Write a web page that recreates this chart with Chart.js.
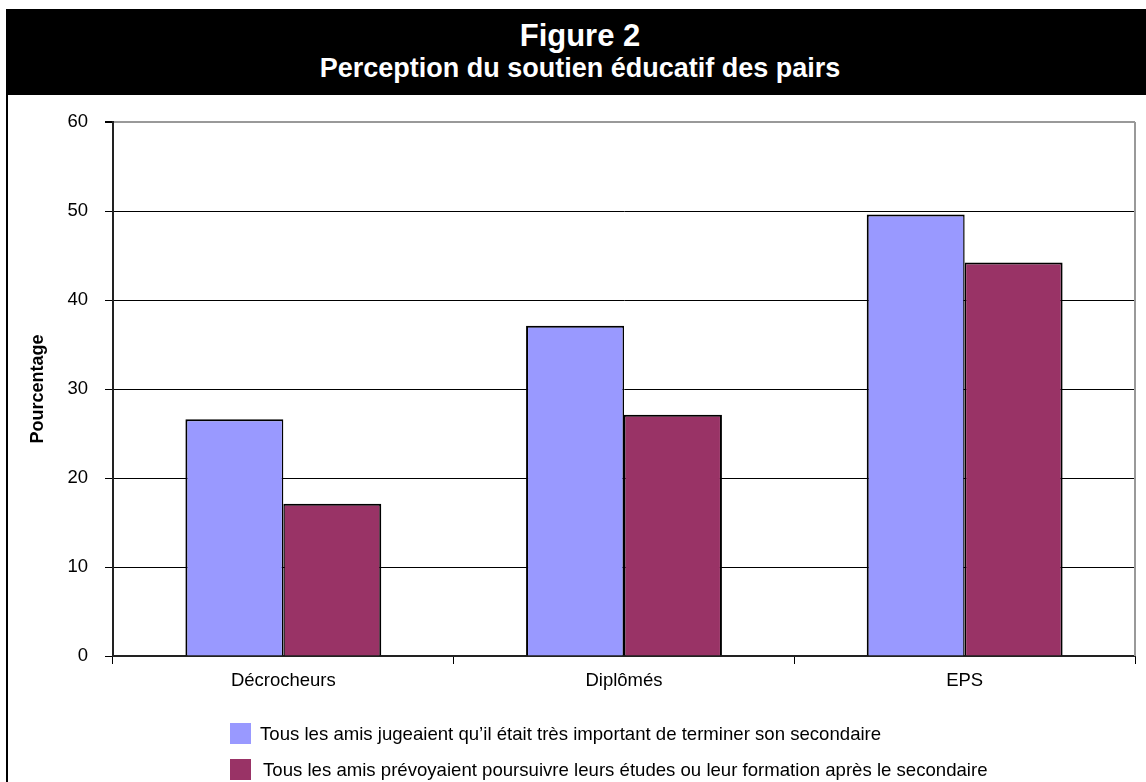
<!DOCTYPE html>
<html>
<head>
<meta charset="utf-8">
<script src="https://cdn.jsdelivr.net/npm/chart.js@4/dist/chart.umd.min.js"></script>
<style>
  html, body { margin: 0; padding: 0; background: #ffffff; overflow: hidden; }
  body { width: 1146px; height: 782px; position: relative; font-family: "Liberation Sans", Arial, sans-serif; }
  #frame { position: absolute; left: 6px; top: 9px; width: 1148px; height: 800px; border-left: 2px solid #000; box-sizing: border-box; }
  #header { position: absolute; left: 6px; top: 9px; width: 1148px; height: 86px; background: #000; }
  .head { position: absolute; left: 0; width: 100%; text-align: center; color: #fff; font-weight: bold; white-space: nowrap; }
  #chartBox { position: absolute; left: 0; top: 0; width: 1146px; height: 782px; }
  .legendRow { position: absolute; height: 21px; font-size: 18.6px; line-height: 21px; color: #000; white-space: nowrap; }
  .legendBox { position: absolute; left: 230px; width: 21px; height: 21px; }
</style>
</head>
<body>
<div id="chartBox"><canvas id="soutienChart" width="1146" height="782"></canvas></div>
<div id="frame"></div>
<div id="header">
  <div class="head" style="top: 11px; font-size: 31px; line-height: 31px;">Figure 2</div>
  <div class="head" style="top: 46px; font-size: 27px; line-height: 27px;">Perception du soutien éducatif des pairs</div>
</div>
<div id="legend"></div>
<script>
var categories = ['Décrocheurs', 'Diplômés', 'EPS'];

var seriesNames = [
  'Tous les amis jugeaient qu\u2019il était très important de terminer son secondaire',
  'Tous les amis prévoyaient poursuivre leurs études ou leur formation après le secondaire'
];

var importantValues = [26.6, 37.1, 49.6];

var poursuivreValues = [17.1, 27.1, 44.2];

var yTicks = [0, 10, 20, 30, 40, 50, 60];

var seriesColors = ['#9999FF', '#993366'];

// Gray frame on the right side of the plot
var plotFrame = {
  id: 'plotFrame',

  beforeDatasetsDraw: function (chart) {
    var ctx = chart.ctx;

    var area = chart.chartArea;

    ctx.save();

    ctx.strokeStyle = '#999999';

    ctx.lineWidth = 2;

    ctx.beginPath();

    ctx.moveTo(area.right, area.top);

    ctx.lineTo(area.right, area.bottom);

    ctx.stroke();

    ctx.restore();
  }
};

var soutienData = {

  labels: categories,

  datasets: [
    {
      label: seriesNames[0],

      data: importantValues,

      backgroundColor: seriesColors[0],

      borderColor: '#000000',

      borderWidth: { top: 2, left: 2, right: 1.5, bottom: 0 },

      borderSkipped: false
    },
    {
      label: seriesNames[1],

      data: poursuivreValues,

      backgroundColor: seriesColors[1],

      borderColor: '#000000',

      borderWidth: { top: 2, left: 1.5, right: 2, bottom: 0 },

      borderSkipped: false
    }
  ]
};

var soutienChart = new Chart(document.getElementById('soutienChart'), {

  type: 'bar',

  data: soutienData,

  plugins: [plotFrame],

  options: {
    responsive: false,

    animation: false,

    devicePixelRatio: 1,

    categoryPercentage: 0.575,

    barPercentage: 1.0,

    layout: {
      padding: { top: 122, right: 11, bottom: 86, left: 0 }
    },

    plugins: {
      legend: { display: false },

      title: { display: false },

      tooltip: { enabled: false }
    },

    scales: {
      x: {
        offset: true,

        grid: {
          display: true,

          offset: true,

          drawOnChartArea: false,

          drawTicks: true,

          tickLength: 8,

          color: '#000000'
        },

        border: { display: true, color: '#222222', width: 2 },

        ticks: {
          color: '#000000',

          padding: 6,

          maxRotation: 0,

          font: { family: 'Liberation Sans', size: 18.5 }
        },

        afterFit: function (scale) {
          scale.height = 40;
        }
      },
      y: {
        min: 0,

        max: 60,

        afterBuildTicks: function (scale) {
          scale.ticks = yTicks.map(function (v) { return { value: v }; });
        },

        grid: {
          color: function (context) {
            return context.tick && context.tick.value === 60 ? '#999999' : '#000000';
          },

          lineWidth: function (context) {
            return context.tick && context.tick.value === 60 ? 2 : 1;
          },

          tickColor: '#000000',

          tickLength: 8
        },

        border: { display: true, color: '#222222', width: 2 },

        ticks: {
          color: '#000000',

          padding: 17,

          font: { family: 'Liberation Sans', size: 18.5 }
        },

        title: {
          display: true,

          text: 'Pourcentage',

          color: '#000000',

          padding: { top: 27, bottom: 0 },

          font: { family: 'Liberation Sans', size: 18, weight: 'bold' }
        },

        afterFit: function (scale) {
          scale.width = 113;
        }
      }
    }
  }
});

// Legend rows under the chart
var legendTops = [723, 759];

var legendTextLeft = [260, 263];

var legendEl = document.getElementById('legend');

seriesNames.forEach(function (name, i) {

  var box = document.createElement('div');

  box.className = 'legendBox';

  box.style.top = legendTops[i] + 'px';

  box.style.background = seriesColors[i];

  legendEl.appendChild(box);

  var row = document.createElement('div');

  row.className = 'legendRow';

  row.style.top = legendTops[i] + 'px';

  row.style.left = legendTextLeft[i] + 'px';

  row.innerText = name;

  legendEl.appendChild(row);
});
</script>
</body>
</html>
